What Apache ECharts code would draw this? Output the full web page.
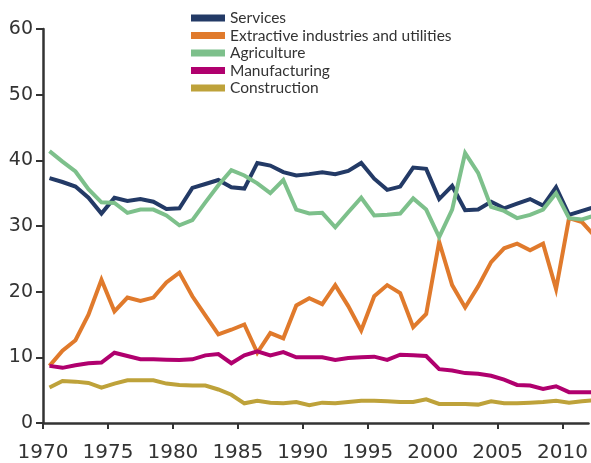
<!DOCTYPE html>
<html>
<head>
<meta charset="utf-8">
<script src="https://cdn.jsdelivr.net/npm/echarts@6/dist/echarts.min.js"></script>
<style>
  html, body { margin: 0; padding: 0; background: #fff; }
  #chart { width: 591px; height: 463px; }
</style>
</head>
<body>
<div id="chart"></div>
<script>
// yearly shares, each value plotted at mid-year
const years = [];
for (let y = 1970; y <= 2012; y++) years.push(y);

const services = [37.3, 36.7, 36.0, 34.3, 31.9, 34.3, 33.8, 34.1, 33.7, 32.6,
  32.7, 35.8, 36.4, 37.0, 35.9, 35.7, 39.6, 39.2, 38.2, 37.7,
  37.9, 38.2, 37.9, 38.4, 39.6, 37.2, 35.5, 36.0, 38.9, 38.7,
  34.1, 36.1, 32.4, 32.5, 33.7, 32.7, 33.4, 34.1, 33.1, 35.9,
  31.7, 32.3, 32.9];
const extractive = [8.7, 11.0, 12.6, 16.5, 21.8, 17.0, 19.1, 18.6, 19.1, 21.4,
  22.9, 19.3, 16.4, 13.5, 14.2, 15.0, 10.7, 13.7, 12.9, 17.9,
  19.0, 18.1, 21.0, 17.8, 14.1, 19.3, 21.0, 19.8, 14.6, 16.6,
  27.6, 21.0, 17.6, 20.8, 24.5, 26.6, 27.3, 26.3, 27.3, 20.4,
  31.2, 30.6, 28.4];
const agriculture = [41.4, 39.8, 38.3, 35.6, 33.6, 33.5, 32.0, 32.5, 32.5, 31.6,
  30.1, 30.9, 33.6, 36.2, 38.5, 37.7, 36.5, 35.0, 37.0, 32.5,
  31.9, 32.0, 29.8, 32.1, 34.3, 31.6, 31.7, 31.9, 34.2, 32.5,
  28.3, 32.5, 41.1, 38.1, 32.9, 32.3, 31.2, 31.7, 32.5, 35.0,
  31.2, 31.0, 31.6];
const manufacturing = [8.7, 8.4, 8.8, 9.1, 9.2, 10.7, 10.2, 9.7, 9.7, 9.65,
  9.6, 9.7, 10.3, 10.5, 9.1, 10.3, 10.9, 10.3, 10.8, 10.0,
  10.0, 10.0, 9.6, 9.9, 10.0, 10.1, 9.6, 10.4, 10.3, 10.2,
  8.2, 8.0, 7.6, 7.5, 7.2, 6.6, 5.8, 5.7, 5.2, 5.6,
  4.7, 4.7, 4.7];
const construction = [5.4, 6.4, 6.3, 6.1, 5.4, 6.0, 6.5, 6.5, 6.5, 6.0,
  5.8, 5.7, 5.7, 5.1, 4.3, 3.0, 3.4, 3.1, 3.0, 3.2,
  2.7, 3.1, 3.0, 3.2, 3.4, 3.4, 3.3, 3.2, 3.2, 3.6,
  2.9, 2.9, 2.9, 2.8, 3.3, 3.0, 3.0, 3.1, 3.2, 3.4,
  3.1, 3.3, 3.5];

const xTicks = [1970, 1975, 1980, 1985, 1990, 1995, 2000, 2005, 2010];

const seriesDefs = [
  { name: "Services", values: services, color: "#233a66" },
  { name: "Extractive industries and utilities", values: extractive, color: "#e07a2c" },
  { name: "Agriculture", values: agriculture, color: "#7dc08b" },
  { name: "Manufacturing", values: manufacturing, color: "#b0006e" },
  { name: "Construction", values: construction, color: "#bea23a" },
];

const axisFont = { fontFamily: "DejaVu Sans", fontSize: 19, color: "#333" };

const chart = echarts.init(document.getElementById("chart"));
chart.setOption({
  animation: false,
  backgroundColor: "#fff",
  grid: { left: 43, right: 0, top: 29, bottom: 37 },
  legend: {
    orient: "vertical",
    left: 186,
    top: 5,
    itemWidth: 34,
    itemHeight: 7,
    itemGap: 1.5,
    icon: "rect",
    textStyle: { fontFamily: "Lato", fontSize: 15.5, lineHeight: 15, color: "#333" },
    data: seriesDefs.map(s => s.name),
  },
  xAxis: {
    type: "value",
    min: 1970,
    max: 2012,
    interval: 5,
    splitLine: { show: false },
    axisLine: { lineStyle: { color: "#333", width: 2.5 } },
    axisTick: { length: 6, lineStyle: { color: "#333", width: 2 }, customValues: xTicks },
    axisLabel: { ...axisFont, fontSize: 20, margin: 20, customValues: xTicks, formatter: v => String(v) },
  },
  yAxis: {
    type: "value",
    min: 0,
    max: 60,
    interval: 10,
    splitLine: { show: false },
    axisLine: { show: true, lineStyle: { color: "#333", width: 2.5 } },
    axisTick: { show: true, length: 7, lineStyle: { color: "#333", width: 2 } },
    axisLabel: { ...axisFont, margin: 10 },
  },
  series: seriesDefs.map(s => ({
    name: s.name,
    type: "line",
    clip: true,
    showSymbol: false,
    color: s.color,
    lineStyle: { width: 4, color: s.color, join: "miter" },
    data: years.map((y, i) => [y + 0.5, s.values[i]]),
  })),
});
</script>
</body>
</html>
